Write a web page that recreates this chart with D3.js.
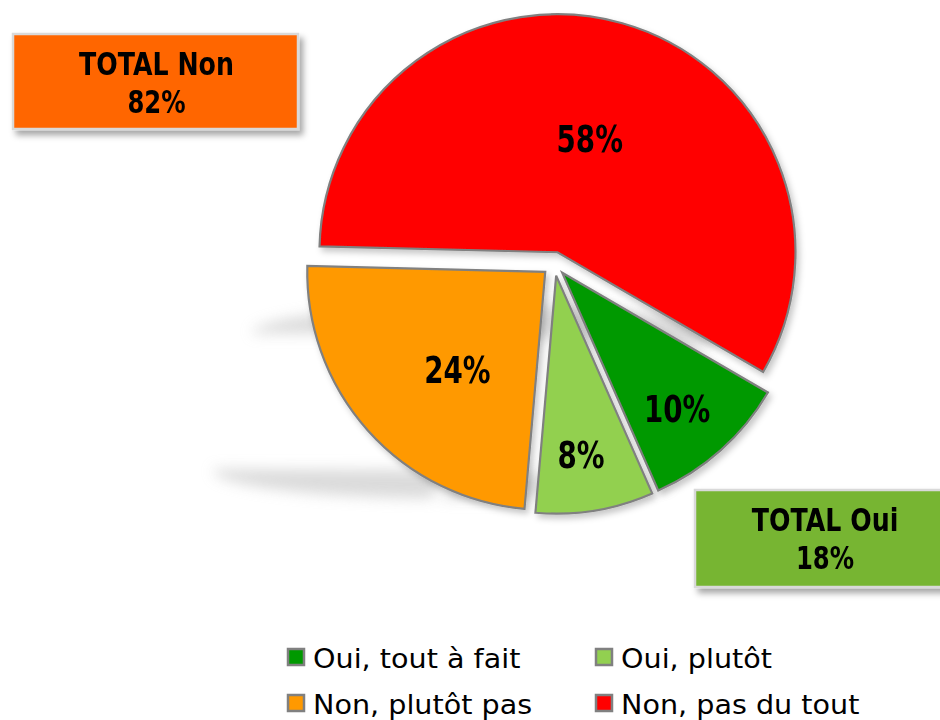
<!DOCTYPE html>
<html>
<head>
<meta charset="utf-8">
<script src="https://cdn.jsdelivr.net/npm/d3@7"></script>
<style>
  html, body { margin: 0; padding: 0; background: #ffffff; }
  svg { display: block; }
</style>
</head>
<body>
<svg id="chart" width="940" height="720"></svg>
<script>
// ---- data ----
const categories = ["Oui, tout à fait", "Oui, plutôt", "Non, plutôt pas", "Non, pas du tout"];
const values = [10, 8, 24, 58];
const sliceColors = ["#009900", "#92D050", "#FF9900", "#FF0000"];
const totalNames = ["TOTAL Non", "TOTAL Oui"];
const totalValues = [82, 18];
const totalColors = ["#FF6600", "#77B530"];

// ---- layout config ----
const W = 940, H = 720;
const cx = 554.2, cy = 263.8, R = 238, explode = 12;
const startDeg = 120.2;
const labelFrac = [0.747, 0.76, 0.553, 0.498];
const labelAngleOffsetDeg = [1.5, 1.5, -6.3, 0];
const FONT = "'DejaVu Sans', Verdana, sans-serif";

const svg = d3.select("#chart");
const defs = svg.append("defs");

const blur = defs.append("filter").attr("id", "blurShadow")
  .attr("x", "-30%").attr("y", "-200%").attr("width", "160%").attr("height", "500%");
blur.append("feGaussianBlur").attr("stdDeviation", 7);

const drop = defs.append("filter").attr("id", "dropShadow")
  .attr("x", "-20%").attr("y", "-20%").attr("width", "140%").attr("height", "140%");
drop.append("feDropShadow").attr("dx", 3).attr("dy", 4).attr("stdDeviation", 3)
  .attr("flood-color", "#000").attr("flood-opacity", 0.22);

const boxDrop = defs.append("filter").attr("id", "boxShadow")
  .attr("x", "-20%").attr("y", "-30%").attr("width", "140%").attr("height", "170%");
boxDrop.append("feDropShadow").attr("dx", 4).attr("dy", 5).attr("stdDeviation", 3)
  .attr("flood-color", "#000").attr("flood-opacity", 0.35);

function addText(parent, x, y, str, size, weight, sx, anchor) {
  const g = parent.append("g").attr("transform", `translate(${x},${y}) scale(${sx},1)`);
  g.append("text")
    .attr("text-anchor", anchor || "middle")
    .attr("font-family", FONT)
    .attr("font-size", size)
    .attr("font-weight", weight)
    .attr("fill", "#000")
    .text(str);
  return g;
}

const rad = d => d * Math.PI / 180;
const pie = d3.pie().sort(null).value(d => d)
  .startAngle(rad(startDeg)).endAngle(rad(startDeg) + 2 * Math.PI);
const arcs = pie(values);
const arc = d3.arc().innerRadius(0).outerRadius(R);

function sliceCenter(a) {
  const mid = (a.startAngle + a.endAngle) / 2;
  return [cx + explode * Math.sin(mid), cy - explode * Math.cos(mid)];
}

// ---- ground shadows (flattened, blurred copies of slices) ----
const shadowLayer = svg.append("g").attr("filter", "url(#blurShadow)").attr("opacity", 0.55);
arcs.forEach((a, i) => {
  const [sx, sy] = sliceCenter(a);
  const isRed = i === 3;
  const dx = isRed ? -68 : -94;
  const ty = isRed ? 334 : 470;
  shadowLayer.append("path")
    .attr("d", arc(a))
    .attr("fill", "#bdbdbd")
    .attr("transform", `translate(${sx + dx},${ty}) scale(1,0.12)`);
});

// ---- pie slices ----
const pieLayer = svg.append("g");
arcs.forEach((a, i) => {
  const [sx, sy] = sliceCenter(a);
  pieLayer.append("path")
    .attr("d", arc(a))
    .attr("transform", `translate(${sx},${sy})`)
    .attr("fill", sliceColors[i])
    .attr("stroke", "#808080")
    .attr("stroke-width", 2.2)
    .attr("stroke-linejoin", "miter")
    .attr("filter", "url(#dropShadow)");
});

// ---- slice labels ----
arcs.forEach((a, i) => {
  const [sx, sy] = sliceCenter(a);
  const mid = (a.startAngle + a.endAngle) / 2 + rad(labelAngleOffsetDeg[i]);
  const r = R * labelFrac[i];
  const x = sx + r * Math.sin(mid);
  const y = sy - r * Math.cos(mid);
  addText(svg, x, y + 13.5, values[i] + "%", 37, "bold", 0.75);
});

// ---- total boxes ----
const boxes = [
  { x: 13, y: 34, w: 285, h: 95 },
  { x: 695, y: 490, w: 262, h: 97 }
];
boxes.forEach((b, i) => {
  svg.append("rect")
    .attr("x", b.x).attr("y", b.y).attr("width", b.w).attr("height", b.h)
    .attr("fill", totalColors[i])
    .attr("stroke", "#d9d9d9").attr("stroke-width", 2.5)
    .attr("filter", "url(#boxShadow)");
  const tx = i === 0 ? b.x + b.w / 2 + 1 : 825;
  addText(svg, tx, b.y + 41, totalNames[i], 32, "bold", 0.79);
  addText(svg, tx, b.y + 79, totalValues[i] + "%", 32, "bold", 0.76);
});

// ---- legend ----
const legendCols = [288, 596];
const legendRows = [649, 695];
categories.forEach((c, i) => {
  const col = i % 2, row = Math.floor(i / 2);
  const x = legendCols[col], y = legendRows[row];
  svg.append("rect")
    .attr("x", x).attr("y", y).attr("width", 16).attr("height", 16)
    .attr("fill", sliceColors[i])
    .attr("stroke", "#808080").attr("stroke-width", 2.5);
  addText(svg, x + 25, y + 18.5, c, 27, "normal", 1.06, "start");
});
</script>
</body>
</html>
